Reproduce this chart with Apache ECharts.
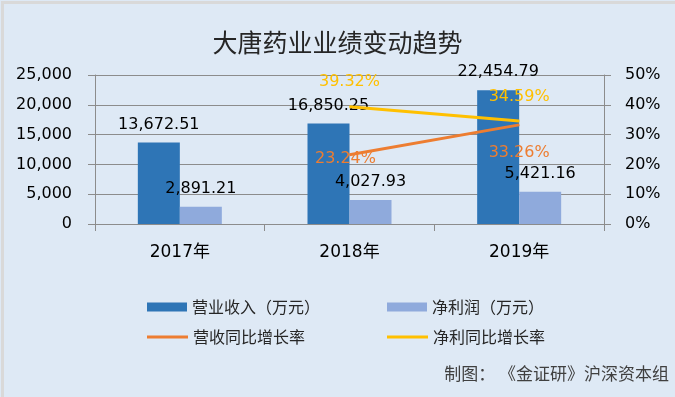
<!DOCTYPE html>
<html>
<head>
<meta charset="utf-8">
<script src="https://cdn.jsdelivr.net/npm/echarts@6/dist/echarts.min.js"></script>
<style>
html, body { margin: 0; padding: 0; background: #dee9f5; }
#main { width: 675px; height: 397px; }
</style>
</head>
<body>
<div id="main"></div>
<script>
// 数据
var years = ['2017年', '2018年', '2019年'];
var revenue = [13672.51, 16850.25, 22454.79];     // 营业收入（万元）
var profit = [2891.21, 4027.93, 5421.16];         // 净利润（万元）
var revenueGrowth = [null, 23.24, 33.26];         // 营收同比增长率 %
var profitGrowth = [null, 39.32, 34.59];          // 净利同比增长率 %
var leftAxis = { min: 0, max: 25000, step: 5000 };
var rightAxis = { min: 0, max: 50, step: 10 };

var numFont = 'DejaVu Sans';
var cjkFont = 'Noto Sans CJK SC';
var gray = '#8c8c8c';

function fmt(v) {
    return Number(v).toLocaleString('en-US', { minimumFractionDigits: 2, maximumFractionDigits: 2 });
}
function fmtInt(v) {
    return Number(v).toLocaleString('en-US');
}
function pct(p) {
    return p.value == null ? '' : Number(p.value).toFixed(2) + '%';
}
// 营收增长率标签的偏移
var orangeOffsets = [[0, 0], [-4, -4], [0, 19]];

var legendText = { fontFamily: cjkFont, fontSize: 16, color: '#262626', lineHeight: 16 };

var myChart = echarts.init(document.getElementById('main'));
var option = {
    backgroundColor: '#dee9f5',
    animation: false,
    title: {
        text: '大唐药业业绩变动趋势',
        left: 'center',
        top: 25,
        textStyle: { fontFamily: cjkFont, fontSize: 25, fontWeight: 'normal', color: '#262626' }
    },
    legend: [
        { data: ['营业收入（万元）'], left: 147, top: 299, padding: 0, itemWidth: 40, itemHeight: 9, icon: 'rect', textStyle: legendText },
        { data: ['净利润（万元）'], left: 387, top: 299, padding: 0, itemWidth: 40, itemHeight: 9, icon: 'rect', textStyle: legendText },
        { data: ['营收同比增长率'], left: 147, top: 329, padding: 0, itemWidth: 41, itemHeight: 3, icon: 'rect', textStyle: legendText },
        { data: ['净利同比增长率'], left: 387, top: 329, padding: 0, itemWidth: 41, itemHeight: 3, icon: 'rect', textStyle: legendText }
    ],
    grid: { left: 95, right: 71, top: 75, bottom: 173 },
    xAxis: {
        type: 'category',
        data: years,
        axisLine: { lineStyle: { color: gray } },
        axisTick: { show: true, length: 7, lineStyle: { color: gray } },
        axisLabel: { margin: 20, color: '#000', fontSize: 17, fontFamily: numFont + ',' + cjkFont }
    },
    yAxis: [{
        type: 'value',
        min: leftAxis.min, max: leftAxis.max, interval: leftAxis.step,
        axisLine: { show: true, lineStyle: { color: gray } },
        axisTick: { show: true, length: 7, lineStyle: { color: gray } },
        splitLine: { lineStyle: { color: gray } },
        axisLabel: { margin: 23, color: '#000', fontSize: 16, fontFamily: numFont, formatter: fmtInt }
    }, {
        type: 'value',
        min: rightAxis.min, max: rightAxis.max, interval: rightAxis.step,
        axisLine: { show: true, lineStyle: { color: gray } },
        axisTick: { show: true, length: 7, lineStyle: { color: gray } },
        splitLine: { show: false },
        axisLabel: { margin: 21, color: '#000', fontSize: 16, fontFamily: numFont, formatter: '{value}%' }
    }],
    series: [{
        name: '营业收入（万元）',
        type: 'bar',
        data: revenue,
        barWidth: 42,
        barGap: '0%',
        itemStyle: { color: '#2e75b6' },
        label: { show: true, position: 'top', distance: 10, color: '#000', fontSize: 16, fontFamily: numFont,
                 formatter: function (p) { return fmt(p.value); } }
    }, {
        name: '净利润（万元）',
        type: 'bar',
        data: profit,
        barWidth: 42,
        itemStyle: { color: '#8faadc' },
        label: { show: true, position: 'top', distance: 10, color: '#000', fontSize: 16, fontFamily: numFont,
                 formatter: function (p) { return fmt(p.value); } }
    }, {
        name: '营收同比增长率',
        type: 'line',
        yAxisIndex: 1,
        data: revenueGrowth.map(function (v, i) {
            return { value: v, label: { offset: orangeOffsets[i] } };
        }),
        showSymbol: true,
        symbol: 'circle',
        symbolSize: 1,
        z: 5,
        itemStyle: { color: '#ed7d31' },
        lineStyle: { color: '#ed7d31', width: 3 },
        label: { show: true, position: 'bottom', distance: 0, color: '#ed7d31', fontSize: 16, fontFamily: numFont, formatter: pct }
    }, {
        name: '净利同比增长率',
        type: 'line',
        yAxisIndex: 1,
        data: profitGrowth,
        showSymbol: true,
        symbol: 'circle',
        symbolSize: 1,
        z: 5,
        itemStyle: { color: '#ffc000' },
        lineStyle: { color: '#ffc000', width: 3 },
        label: { show: true, position: 'top', distance: 16, color: '#ffc000', fontSize: 16, fontFamily: numFont, formatter: pct }
    }],
    graphic: [{
        type: 'text',
        right: 6,
        top: 365,
        style: { text: '制图： 《金证研》沪深资本组', font: '17px "Noto Sans CJK SC"', fill: '#404040' }
    }, {
        type: 'rect',
        left: 0, top: 0,
        shape: { x: 0, y: 0, width: 675, height: 397 },
        style: { fill: null, stroke: '#d9d9d9', lineWidth: 3 },
        silent: true
    }]
};
myChart.setOption(option);
</script>
</body>
</html>
